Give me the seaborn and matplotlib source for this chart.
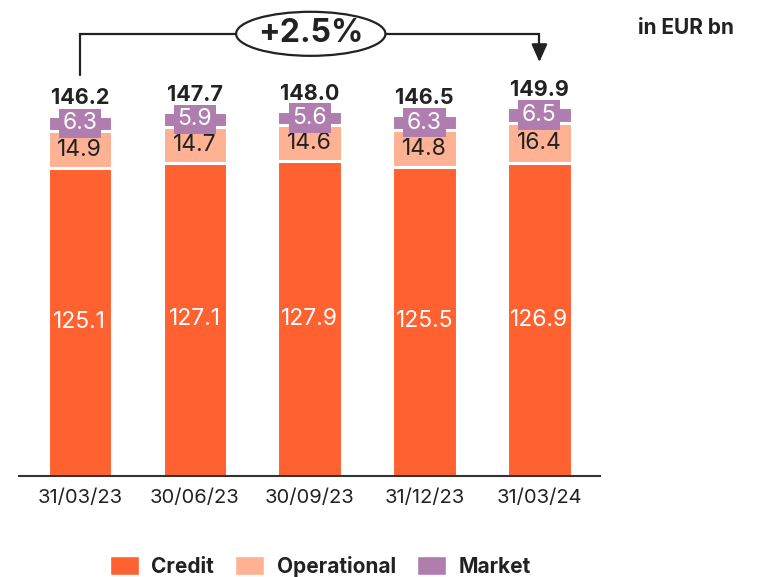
import matplotlib
matplotlib.use("Agg")
import matplotlib.pyplot as plt
from matplotlib.patches import Ellipse, Patch
import seaborn as sns
import pandas as pd
import numpy as np

dates = ["31/03/23", "30/06/23", "30/09/23", "31/12/23", "31/03/24"]
credit = [125.1, 127.1, 127.9, 125.5, 126.9]
operational = [14.9, 14.7, 14.6, 14.8, 16.4]
market = [6.3, 5.9, 5.6, 6.3, 6.5]
totals = [146.2, 147.7, 148.0, 146.5, 149.9]
change_label = "+2.5%"

C_CREDIT = "#FF6131"
C_OPER = "#FFB194"
C_MARKET = "#B07DAF"
DARK = "#222222"

sns.set_theme(style="white")
plt.rcParams["font.family"] = ["Inter", "DejaVu Sans"]

fig = plt.figure(figsize=(7.57, 5.77), dpi=100)
ax = fig.add_axes([0.025, 0.175, 0.768, 0.808])

df = pd.DataFrame({"date": dates, "Credit": credit,
                   "Operational": operational, "Market": market})
df["cum_oper"] = df["Credit"] + df["Operational"]
df["cum_market"] = df["cum_oper"] + df["Market"]

bw = 0.56
# stacked bars: draw tallest cumulative first so shorter ones sit on top
sns.barplot(data=df, x="date", y="cum_market", color=C_MARKET, width=bw,
            edgecolor="white", linewidth=2.2, saturation=1, ax=ax)
sns.barplot(data=df, x="date", y="cum_oper", color=C_OPER, width=bw,
            edgecolor="white", linewidth=2.2, saturation=1, ax=ax)
sns.barplot(data=df, x="date", y="Credit", color=C_CREDIT, width=bw,
            edgecolor="white", linewidth=2.2, saturation=1, ax=ax)

ax.set_xlim(-0.53, 4.53)
ax.set_ylim(0, 466 / 2.462)
ax.set_xlabel("")
ax.set_ylabel("")
ax.set_yticks([])
for s in ["top", "right", "left"]:
    ax.spines[s].set_visible(False)
ax.spines["bottom"].set_color("#333333")
ax.spines["bottom"].set_linewidth(1.5)
ax.tick_params(axis="x", length=0, pad=9, labelsize=14.5, labelcolor=DARK)

for i in range(len(dates)):
    c, o, m, t = credit[i], operational[i], market[i], totals[i]
    ax.text(i, c / 2, f"{c:.1f}", ha="center", va="center",
            color="white", fontsize=16.5)
    ax.text(i, c + o / 2, f"{o:.1f}", ha="center", va="center",
            color=DARK, fontsize=16.5)
    ax.text(i, c + o + m / 2, f"{m:.1f}", ha="center", va="center",
            color="white", fontsize=16.5,
            bbox=dict(boxstyle="square,pad=0.16", fc=C_MARKET, ec="none"))
    ax.text(i, c + o + m + 3.0, f"{t:.1f}", ha="center", va="bottom",
            color=DARK, fontsize=15.5, fontweight="bold")

# growth connector from first to last bar
y_line = (476 - 34) / 2.462
y_start = (476 - 75) / 2.462
y_end = (476 - 65) / 2.462
ax.plot([0, 0, 4, 4], [y_start, y_line, y_line, y_end + 4],
        color=DARK, lw=1.6, clip_on=False, solid_joinstyle="miter")
ax.annotate("", xy=(4, y_end), xytext=(4, y_end + 6),
            arrowprops=dict(arrowstyle="-|>,head_width=0.4,head_length=0.9",
                            color=DARK, lw=1.6), annotation_clip=False)
ell = Ellipse((2.01, y_line), width=1.3, height=44 / 2.462,
              fc="white", ec=DARK, lw=1.6, clip_on=False, zorder=5)
ax.add_patch(ell)
ax.text(2.01, y_line, change_label, ha="center", va="center",
        fontsize=23, fontweight="bold", color=DARK, zorder=6)

fig.text(0.843, 0.951, "in EUR bn", ha="left", va="center",
         fontsize=15, fontweight="bold", color=DARK)

handles = [Patch(fc=C_CREDIT), Patch(fc=C_OPER), Patch(fc=C_MARKET)]
fig.legend(handles, ["Credit", "Operational", "Market"], loc="center",
           bbox_to_anchor=(0.423, 0.019), ncol=3, frameon=False,
           prop={"weight": "bold", "size": 15}, handlelength=1.4,
           handleheight=1.0, columnspacing=1.0, handletextpad=0.6,
           labelcolor=DARK)

fig.savefig("out.png", dpi=100)
